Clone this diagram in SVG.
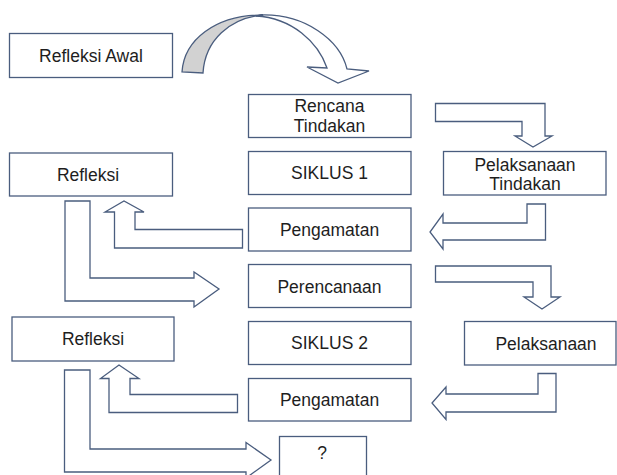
<svg xmlns="http://www.w3.org/2000/svg" width="617" height="475" viewBox="0 0 617 475">
<style>
.box{fill:#ffffff;stroke:#4a5d7e;stroke-width:1.3}
.arr{fill:#ffffff;stroke:#4a5d7e;stroke-width:1.3;stroke-linejoin:miter}
.shade{fill:#d2d2d2;stroke:#4a5d7e;stroke-width:1.3}
.t{font-family:"Liberation Sans",Arial,sans-serif;font-size:17.5px;fill:#1e1e1e;text-anchor:middle}
</style>
<rect width="617" height="475" fill="#ffffff"/>
<g id="connectors">
  <path class="arr" d="M262,15 C305,14 340,40 347,69 L369,71 L338,83 L307,67 L327,68 C318,42 292,18 256,16 Z"/>
  <path class="shade" d="M182,72 C184,40 215,15 263,15 C230,18 205,40 203,73 Z"/>
  <polygon class="arr" points="435.5,103.5 545,103.5 545,136 552,136 533,147 515,136 522,136 522,121.5 435.5,121.5"/>
  <polygon class="arr" points="527,204 545.5,204 545.5,240 443,240 443,249 430,232 443,214 443,223 527,223"/>
  <polygon class="arr" points="242.5,229.5 242.5,248 114.5,248 114.5,212 105,212 124,201 144,212 135,212 135,229.5"/>
  <polygon class="arr" points="65,201 90,201 90,278 194,278 194,272 219,289 194,307 194,301 65,301"/>
  <polygon class="arr" points="435.5,266 551,266 551,297 560,297 542,309 524,297 533,297 533,282 435.5,282"/>
  <polygon class="arr" points="538,373.5 556,373.5 556,412 446,412 446,419.5 432,403 446,387 446,394 538,394"/>
  <polygon class="arr" points="237.5,394.5 237.5,412.5 109,412.5 109,378.5 100.5,378.5 119,365 139,378.5 130,378.5 130,394.5"/>
  <polygon class="arr" points="64.5,370 90,370 90,449 246,449 246,442.5 271,460 246,478 246,472 64.5,472"/>
</g>
<g id="n_refleksi_awal"><rect class="box" x="9.5" y="33.5" width="163" height="44"/><text class="t" x="91" y="62">Refleksi Awal</text></g>
<g id="n_rencana"><rect class="box" x="248.5" y="94.5" width="162.5" height="43"/><text class="t" x="329.5" y="112">Rencana</text><text class="t" x="329.5" y="132">Tindakan</text></g>
<g id="n_siklus1"><rect class="box" x="248.5" y="151.5" width="162.5" height="43"/><text class="t" x="329.5" y="179">SIKLUS 1</text></g>
<g id="n_pengamatan1"><rect class="box" x="248.5" y="208" width="162.5" height="43"/><text class="t" x="329.5" y="236">Pengamatan</text></g>
<g id="n_perencanaan"><rect class="box" x="248.5" y="264.5" width="162.5" height="43"/><text class="t" x="329.5" y="293">Perencanaan</text></g>
<g id="n_siklus2"><rect class="box" x="248.5" y="321.5" width="162.5" height="43"/><text class="t" x="329.5" y="349">SIKLUS 2</text></g>
<g id="n_pengamatan2"><rect class="box" x="248.5" y="378.5" width="162.5" height="42.5"/><text class="t" x="329.5" y="406">Pengamatan</text></g>
<g id="n_tanya"><rect class="box" x="279.5" y="436.5" width="87" height="50"/><text class="t" x="322" y="459">?</text></g>
<g id="n_refleksi1"><rect class="box" x="9.5" y="153" width="163" height="43"/><text class="t" x="88" y="181">Refleksi</text></g>
<g id="n_refleksi2"><rect class="box" x="12" y="317" width="162" height="44"/><text class="t" x="93" y="345">Refleksi</text></g>
<g id="n_pelaksanaan_tindakan"><rect class="box" x="443.5" y="151.5" width="162.5" height="43.5"/><text class="t" x="525" y="171">Pelaksanaan</text><text class="t" x="525" y="190">Tindakan</text></g>
<g id="n_pelaksanaan"><rect class="box" x="464.5" y="321.5" width="151.5" height="43.5"/><text class="t" x="546" y="350">Pelaksanaan</text></g>
</svg>
